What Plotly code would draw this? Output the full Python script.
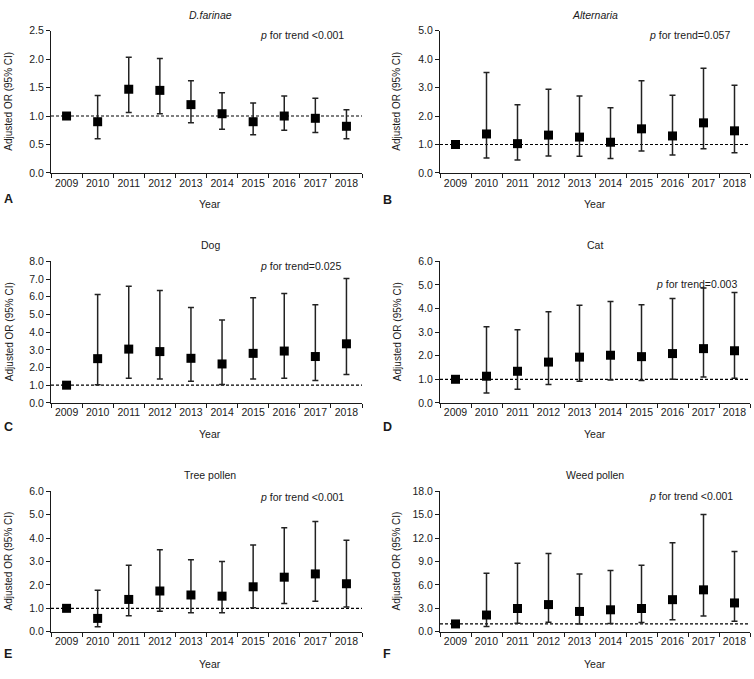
import plotly.graph_objects as go

W, H = 754, 679

years = ["2009", "2010", "2011", "2012", "2013", "2014", "2015", "2016", "2017", "2018"]

# D.farinae
a_or = [1.0, 0.90, 1.47, 1.45, 1.20, 1.04, 0.90, 1.00, 0.96, 0.82]
a_lo = [1.0, 0.60, 1.06, 1.04, 0.88, 0.77, 0.67, 0.75, 0.71, 0.60]
a_hi = [1.0, 1.36, 2.03, 2.01, 1.62, 1.41, 1.23, 1.35, 1.31, 1.11]
# Alternaria
b_or = [1.0, 1.37, 1.03, 1.33, 1.26, 1.08, 1.55, 1.30, 1.76, 1.48]
b_lo = [1.0, 0.53, 0.46, 0.60, 0.59, 0.51, 0.77, 0.63, 0.85, 0.71]
b_hi = [1.0, 3.53, 2.40, 2.94, 2.70, 2.29, 3.24, 2.73, 3.68, 3.08]
# Dog
c_or = [1.0, 2.50, 3.04, 2.90, 2.52, 2.20, 2.80, 2.93, 2.62, 3.34]
c_lo = [1.0, 1.02, 1.39, 1.35, 1.22, 1.04, 1.35, 1.39, 1.26, 1.61]
c_hi = [1.0, 6.13, 6.60, 6.35, 5.40, 4.69, 5.95, 6.18, 5.55, 7.03]
# Cat
d_or = [1.0, 1.13, 1.34, 1.73, 1.94, 2.02, 1.96, 2.09, 2.30, 2.21]
d_lo = [1.0, 0.42, 0.58, 0.78, 0.92, 0.97, 0.95, 1.00, 1.10, 1.04]
d_hi = [1.0, 3.23, 3.10, 3.87, 4.14, 4.30, 4.16, 4.43, 4.87, 4.68]
# Tree pollen
e_or = [1.0, 0.57, 1.38, 1.74, 1.57, 1.52, 1.92, 2.33, 2.47, 2.05]
e_lo = [1.0, 0.21, 0.68, 0.88, 0.81, 0.81, 1.02, 1.21, 1.30, 1.06]
e_hi = [1.0, 1.77, 2.84, 3.50, 3.08, 3.00, 3.70, 4.44, 4.71, 3.91]
# Weed pollen
f_or = [1.0, 2.14, 2.98, 3.48, 2.60, 2.81, 2.98, 4.11, 5.37, 3.69]
f_lo = [1.0, 0.67, 1.09, 1.22, 1.00, 1.05, 1.17, 1.55, 2.01, 1.34]
f_hi = [1.0, 7.50, 8.77, 10.03, 7.39, 7.85, 8.52, 11.41, 15.02, 10.28]

titles = ["<i>D.farinae</i>", "<i>Alternaria</i>", "Dog", "Cat", "Tree pollen", "Weed pollen"]
ptexts = ["<i>p</i> for trend &lt;0.001", "<i>p</i> for trend=0.057", "<i>p</i> for trend=0.025",
          "<i>p</i> for trend=0.003", "<i>p</i> for trend &lt;0.001", "<i>p</i> for trend &lt;0.001"]
letters = ["A", "B", "C", "D", "E", "F"]
ymax = [2.5, 5.0, 8.0, 6.0, 6.0, 18.0]
ydtick = [0.5, 1.0, 1.0, 1.0, 1.0, 3.0]
series = [(a_or, a_lo, a_hi), (b_or, b_lo, b_hi), (c_or, c_lo, c_hi),
          (d_or, d_lo, d_hi), (e_or, e_lo, e_hi), (f_or, f_lo, f_hi)]

FONT = "Liberation Sans, Arial, sans-serif"
INK = "#1a1a1a"

# pixel layout of each panel: (x0, x1, ytop, ybottom)
panels = [
    (51, 362, 25, 170), (440, 750, 25, 170),
    (51, 362, 260, 404), (440, 750, 260, 404),
    (51, 362, 494, 637), (440, 750, 494, 637),
]
title_y = [9, 9, 243, 243, 477, 477]
p_y = [30, 30, 265, 283, 500, 499]
p_x = [258, 647, 258, 654, 258, 647]
year_y = [202, 202, 436, 436, 670, 670]
letter_y = [196, 197, 429, 429, 660, 660]


def px(x):
    return x / W


def py(y):
    return 1 - y / H


fig = go.Figure()
annotations = []
shapes = []
layout = {}


def ann(text, x, y, size=10, xanchor="center", angle=0):
    return dict(text=text, x=px(x), y=py(y), xref="paper", yref="paper",
                xanchor=xanchor, yanchor="middle", textangle=angle, showarrow=False,
                font=dict(size=size, color=INK, family=FONT))


for i in range(6):
    n = "" if i == 0 else str(i + 1)
    xa, ya = "x" + n, "y" + n
    orv, lo, hi = series[i]
    fig.add_trace(go.Scatter(
        x=years, y=orv, xaxis=xa, yaxis=ya, mode="markers",
        marker=dict(symbol="square", size=9, color="black"),
        error_y=dict(type="data", symmetric=False,
                     array=[h - o for h, o in zip(hi, orv)],
                     arrayminus=[o - l for o, l in zip(orv, lo)],
                     color="#222", thickness=1.5, width=3),
        showlegend=False, cliponaxis=False,
    ))
    x0, x1, yt, yb = panels[i]
    layout["xaxis" + n] = dict(
        domain=[px(x0), px(x1)], anchor=ya, type="category",
        range=[-0.5, 9.5], tickson="boundaries", ticks="outside", ticklen=4, tickangle=0,
        showline=True, linecolor=INK, linewidth=1, tickcolor=INK,
        showgrid=False, zeroline=False, tickfont=dict(size=10.5, color=INK, family=FONT),
    )
    layout["yaxis" + n] = dict(
        domain=[py(yb), py(yt)], anchor=xa, range=[0, ymax[i]], dtick=ydtick[i],
        tickformat=".1f", ticks="outside", ticklen=4,
        showline=True, linecolor=INK, linewidth=1, tickcolor=INK,
        showgrid=False, zeroline=False, tickfont=dict(size=10.5, color=INK, family=FONT),
    )
    shapes.append(dict(type="line", xref=xa + " domain", yref=ya, x0=0, x1=1, y0=1, y1=1,
                       line=dict(color="black", width=1.2, dash="3px,2px"), layer="below"))
    cx = (x0 + x1) / 2 + (4 if i % 2 == 0 else 0)
    annotations.append(ann(titles[i], cx, title_y[i], 10.5))
    annotations.append(ann(ptexts[i], p_x[i], p_y[i], 10.5, xanchor="left"))
    annotations.append(ann("Year", cx, year_y[i], 10.5))
    lx = 8 if i % 2 == 0 else 387
    annotations.append(ann("<b>" + letters[i] + "</b>", lx, letter_y[i], 12.5))
    tx = 9 if i % 2 == 0 else 397
    annotations.append(ann("Adjusted OR (95% CI)", tx, (yt + yb) / 2, 10, angle=-90))

fig.update_layout(
    width=W, height=H, margin=dict(l=0, r=0, t=0, b=0),
    paper_bgcolor="white", plot_bgcolor="white",
    annotations=annotations, shapes=shapes, **layout,
)
fig.write_html("out.html", config={"displayModeBar": False},
               post_script="document.body.style.margin='0';document.body.style.overflow='hidden';")
